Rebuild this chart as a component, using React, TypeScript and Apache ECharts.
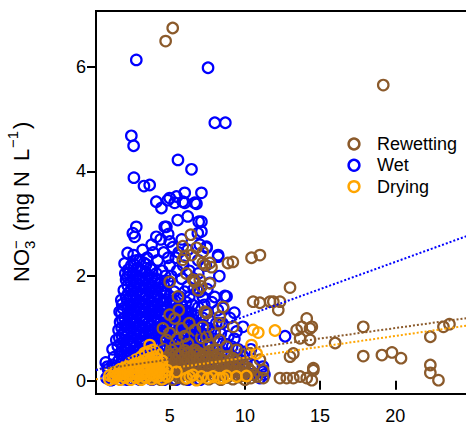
import React, { useEffect, useRef } from "react";
import * as echarts from "echarts";

// Legend order and colours
const seriesNames = ["Rewetting", "Wet", "Drying"];
const seriesColors = ["#8B5A2B", "#0000FF", "#FFA500"];

// Axis ranges and tick positions
const xRange = [0.1, 25];
const yRange = [-0.254, 7.065];
const xTicks = [5, 10, 15, 20];
const yTicks = [0, 2, 4, 6];

// Linear fits (intercept, slope) in legend order
const trendIntercepts = [0.206, 0.19, 0.025];
const trendSlopes = [0.04, 0.104, 0.0415];

// Wet phase: [x, NO3 concentration]
const wet: [number, number][] = [
  [2.78, 6.13], [7.55, 5.98], [8.0, 4.93], [8.7, 4.93], [2.45, 4.68], [2.6, 4.49],
  [5.55, 4.22], [6.45, 4.04], [2.62, 3.88], [3.29, 3.72], [3.67, 3.74],
  [7.11, 3.59], [6.0, 3.59], [5.0, 3.49], [5.45, 3.52], [4.11, 3.42], [4.45, 3.3],
  [4.87, 3.45], [5.33, 3.4], [5.87, 3.42], [6.0, 3.4], [6.67, 3.4], [6.78, 3.38],
  [6.2, 3.14], [5.53, 3.07], [6.93, 3.04], [7.11, 3.04], [4.78, 2.94], [4.67, 2.94],
  [6.87, 2.82], [7.11, 2.85], [4.11, 2.75], [5.0, 2.66], [7.45, 2.54], [7.45, 2.56],
  [8.22, 2.37], [8.22, 2.4], [2.78, 2.94], [2.67, 2.75], [7.67, 1.87], [8.67, 1.62],
  [8.78, 1.61], [8.55, 1.39], [9.44, 0.94], [9.87, 1.03], [9.87, 0.46], [12.67, 0.85],
  [11.2, 0.27], [11.2, 0.17],
  [4.7, 2.0], [4.9, 2.35], [5.2, 2.55], [5.5, 2.1], [5.6, 2.45], [6.0, 1.7],
  [6.3, 1.6], [6.6, 1.95], [6.9, 2.3], [7.2, 1.6], [7.5, 1.75], [7.8, 1.5],
  [8.0, 1.6], [8.3, 2.0], [7.0, 2.6], [5.8, 2.7], [6.2, 2.5], [4.4, 2.7],
  [4.9, 2.8], [3.9, 2.45],
  [0.8, 0.05], [0.9, 0.22], [0.87, 0.27], [0.75, 0.35], [1.1, 0.01],
  [1.15, 0.02], [1.25, 0.15], [1.2, 0.3], [1.3, 0.45], [1.2, 0.6], [1.45, 0.78],
  [1.55, 0.08], [1.65, 0.22], [1.6, 0.38], [1.7, 0.52], [1.55, 0.66], [1.65, 0.82],
  [1.6, 0.97], [1.7, 1.12], [1.67, 1.32],
  [1.82, 0.1], [1.78, 0.26], [1.84, 0.41], [1.8, 0.56], [1.76, 0.71], [1.83, 0.86],
  [1.8, 1.01], [1.85, 1.17], [1.79, 1.3], [1.84, 1.46],
  [2.0, 0.03], [1.95, 0.18], [2.05, 0.33], [1.95, 0.48], [2.05, 0.62], [2.0, 0.77],
  [1.95, 0.92], [2.05, 1.06], [2.0, 1.2], [1.9, 1.38], [1.78, 1.54], [1.95, 1.73],
  [2.1, 1.93], [2.0, 2.24], [2.1, 1.6], [2.05, 2.05],
  [2.22, 0.02], [2.18, 0.17], [2.24, 0.33], [2.2, 0.47], [2.16, 0.62], [2.23, 0.78],
  [2.2, 0.92], [2.17, 1.08], [2.24, 1.22], [2.2, 1.37], [2.18, 1.53], [2.25, 1.67],
  [2.21, 1.82], [2.19, 1.98], [2.24, 2.12],
  [2.4, 0.1], [2.35, 0.25], [2.45, 0.4], [2.4, 0.55], [2.35, 0.7], [2.45, 0.85],
  [2.4, 1.0], [2.35, 1.15], [2.45, 1.3], [2.4, 1.45], [2.35, 1.6], [2.45, 1.75],
  [2.4, 1.9], [2.3, 2.05], [2.2, 2.44], [2.45, 2.2], [2.55, 2.82],
  [2.62, 0.12], [2.58, 0.27], [2.63, 0.43], [2.6, 0.57], [2.57, 0.72], [2.64, 0.88],
  [2.6, 1.02], [2.56, 1.17], [2.63, 1.33], [2.61, 1.47], [2.58, 1.62], [2.64, 1.78],
  [2.6, 1.92], [2.57, 2.07], [2.63, 2.22], [2.6, 2.4],
  [2.8, 0.05], [2.75, 0.2], [2.85, 0.35], [2.8, 0.5], [2.75, 0.65], [2.85, 0.8],
  [2.8, 0.95], [2.75, 1.1], [2.85, 1.25], [2.8, 1.4], [2.75, 1.55], [2.85, 1.7],
  [2.8, 1.85], [2.75, 2.0], [2.85, 2.15], [2.8, 2.3],
  [3.02, 0.02], [2.98, 0.17], [3.03, 0.32], [3.0, 0.48], [2.97, 0.62], [3.04, 0.77],
  [3.0, 0.93], [2.96, 1.07], [3.03, 1.22], [3.01, 1.38], [2.98, 1.52], [3.04, 1.67],
  [3.0, 1.83], [2.97, 1.97], [3.03, 2.12], [3.0, 2.3],
  [3.2, 0.12], [3.15, 0.27], [3.25, 0.42], [3.2, 0.57], [3.15, 0.72], [3.25, 0.87],
  [3.2, 1.02], [3.15, 1.17], [3.25, 1.32], [3.2, 1.47], [3.15, 1.62], [3.25, 1.77],
  [3.2, 1.92], [3.1, 2.1], [3.3, 2.25], [3.2, 2.5],
  [3.42, 0.12], [3.38, 0.28], [3.43, 0.42], [3.4, 0.57], [3.37, 0.73], [3.44, 0.87],
  [3.4, 1.02], [3.36, 1.18], [3.43, 1.32], [3.41, 1.47], [3.38, 1.63], [3.44, 1.77],
  [3.4, 1.92], [3.37, 2.08], [3.43, 2.22],
  [3.6, 0.05], [3.55, 0.2], [3.65, 0.35], [3.6, 0.5], [3.55, 0.65], [3.65, 0.8],
  [3.6, 0.95], [3.55, 1.1], [3.65, 1.25], [3.6, 1.4], [3.55, 1.55], [3.65, 1.7],
  [3.6, 1.85], [3.55, 2.0], [3.7, 2.15], [3.5, 2.35], [3.8, 2.6],
  [3.82, 0.02], [3.78, 0.17], [3.83, 0.33], [3.8, 0.47], [3.77, 0.62], [3.84, 0.78],
  [3.8, 0.92], [3.76, 1.07], [3.83, 1.23], [3.81, 1.37], [3.78, 1.52], [3.84, 1.68],
  [3.8, 1.82], [3.77, 1.97], [3.83, 2.12],
  [4.0, 0.1], [3.95, 0.25], [4.05, 0.4], [4.0, 0.55], [3.95, 0.7], [4.05, 0.85],
  [4.0, 1.0], [3.95, 1.15], [4.05, 1.3], [4.0, 1.45], [3.95, 1.6], [4.05, 1.75],
  [4.0, 1.9], [4.1, 2.05], [4.2, 2.3],
  [4.22, 0.12], [4.18, 0.27], [4.23, 0.43], [4.2, 0.57], [4.17, 0.72], [4.24, 0.88],
  [4.2, 1.02], [4.16, 1.17], [4.23, 1.33], [4.21, 1.47], [4.18, 1.62], [4.24, 1.78],
  [4.2, 1.92],
  [4.4, 0.05], [4.35, 0.2], [4.45, 0.35], [4.4, 0.5], [4.35, 0.65], [4.45, 0.8],
  [4.4, 0.95], [4.35, 1.1], [4.45, 1.25], [4.4, 1.4], [4.35, 1.55], [4.45, 1.7],
  [4.4, 1.85], [4.5, 2.1], [4.6, 2.45],
  [4.62, 0.02], [4.58, 0.18], [4.63, 0.32], [4.6, 0.47], [4.57, 0.63], [4.64, 0.77],
  [4.6, 0.92], [4.56, 1.08], [4.63, 1.22], [4.61, 1.37], [4.58, 1.53], [4.64, 1.67],
  [4.6, 1.82],
  [4.8, 0.1], [4.75, 0.3], [4.85, 0.5], [4.8, 0.65], [4.75, 0.8], [4.85, 0.95],
  [4.8, 1.1], [4.75, 1.25], [4.85, 1.4], [4.8, 1.55], [4.75, 1.7], [4.9, 1.9], [5.0, 2.2],
  [5.02, 0.12], [4.98, 0.27], [5.03, 0.43], [5.0, 0.57], [4.97, 0.72], [5.04, 0.88],
  [5.0, 1.02], [4.96, 1.17], [5.03, 1.33], [5.01, 1.47], [4.98, 1.62],
  [5.2, 0.15], [5.25, 0.4], [5.15, 0.6], [5.2, 0.75], [5.25, 0.9], [5.15, 1.05],
  [5.2, 1.2], [5.25, 1.35], [5.2, 1.5], [5.3, 1.7], [5.1, 2.0], [5.4, 2.35],
  [5.42, 0.02], [5.38, 0.17], [5.43, 0.33], [5.4, 0.47], [5.37, 0.62], [5.44, 0.78],
  [5.4, 0.92], [5.36, 1.07], [5.43, 1.23], [5.41, 1.37], [5.38, 1.52],
  [5.6, 0.2], [5.55, 0.45], [5.65, 0.65], [5.6, 0.8], [5.55, 0.95], [5.65, 1.1],
  [5.6, 1.25], [5.55, 1.4], [5.7, 1.6], [5.8, 1.95], [5.9, 2.2],
  [5.82, 0.12], [5.78, 0.27], [5.83, 0.42], [5.8, 0.58], [5.77, 0.72], [5.84, 0.87],
  [5.8, 1.03], [5.76, 1.17], [5.83, 1.32], [5.81, 1.42],
  [6.0, 0.3], [6.05, 0.55], [5.95, 0.75], [6.0, 0.9], [6.05, 1.05], [5.95, 1.2],
  [6.0, 1.35], [6.1, 1.5], [6.2, 1.8], [6.3, 2.1],
  [6.22, 0.02], [6.18, 0.17], [6.23, 0.33], [6.2, 0.47], [6.17, 0.62], [6.24, 0.78],
  [6.2, 0.92], [6.16, 1.07], [6.23, 1.22], [6.21, 1.32],
  [6.4, 0.25], [6.45, 0.5], [6.35, 0.7], [6.4, 0.85], [6.45, 1.0], [6.35, 1.15],
  [6.4, 1.3], [6.5, 1.45], [6.6, 1.75],
  [6.62, 0.12], [6.58, 0.27], [6.63, 0.42], [6.6, 0.58], [6.57, 0.72], [6.64, 0.87],
  [6.6, 1.03], [6.56, 1.17],
  [6.8, 0.35], [6.85, 0.6], [6.75, 0.8], [6.8, 0.95], [6.85, 1.1], [6.75, 1.25],
  [6.9, 1.4], [7.0, 1.7], [6.9, 2.05],
  [7.02, 0.02], [6.98, 0.17], [7.03, 0.33], [7.0, 0.47], [6.97, 0.62], [7.04, 0.78],
  [7.0, 0.92], [6.96, 1.07],
  [7.2, 0.3], [7.25, 0.55], [7.15, 0.75], [7.2, 0.9], [7.25, 1.05], [7.2, 1.2],
  [7.3, 1.45], [7.4, 2.2],
  [7.6, 0.4], [7.65, 0.65], [7.55, 0.85], [7.6, 1.0], [7.65, 1.15], [7.5, 1.3],
  [8.0, 0.35], [8.05, 0.6], [7.95, 0.8], [8.0, 0.95], [8.1, 1.1], [8.2, 1.35],
  [8.4, 0.3], [8.45, 0.55], [8.35, 0.75], [8.4, 0.9], [8.5, 1.1],
  [8.8, 0.25], [8.85, 0.5], [8.75, 0.7], [8.9, 0.85], [9.0, 1.2],
  [9.2, 0.2], [9.25, 0.45], [9.15, 0.65], [9.3, 0.8], [9.3, 1.3],
  [9.6, 0.15], [9.65, 0.4], [9.55, 0.6],
  [10.0, 0.1], [10.1, 0.35], [10.0, 0.55],
  [10.5, 0.12], [10.6, 0.3], [10.4, 0.6],
  [11.0, 0.05], [11.3, 0.12],
];

// Rewetting phase
const rewetting: [number, number][] = [
  [5.2, 6.74], [4.73, 6.49], [19.2, 5.65],
  [6.4, 2.79], [5.87, 2.57], [6.78, 2.54], [7.2, 2.46], [6.0, 2.37], [6.45, 2.4],
  [5.87, 2.31], [7.2, 2.25], [7.67, 2.25], [8.87, 2.25], [9.2, 2.27], [10.44, 2.35],
  [11.0, 2.4], [7.33, 2.21], [7.78, 2.17], [6.11, 2.05], [6.55, 1.93], [7.0, 1.93],
  [7.67, 1.86], [6.89, 1.73], [5.0, 1.89], [5.55, 1.61], [7.33, 1.32], [8.55, 1.41],
  [7.11, 1.8], [6.67, 1.89],
  [5.0, 1.26], [5.33, 1.19], [4.55, 1.0], [5.0, 0.91], [4.78, 0.78], [5.1, 0.59],
  [6.67, 0.97], [7.2, 1.03], [6.22, 0.71], [6.67, 0.59], [7.11, 0.82],
  [5.5, 0.8], [5.8, 1.0], [6.0, 0.85], [5.4, 0.65], [7.6, 0.7], [8.0, 0.9],
  [8.3, 1.1], [5.6, 1.35], [6.3, 1.1], [4.6, 0.6],
  [7.45, 1.29], [8.33, 1.22], [9.22, 1.03], [7.45, 0.84], [8.33, 0.78], [8.78, 0.65],
  [7.89, 0.59], [9.44, 0.59], [10.33, 0.52], [11.0, 0.4], [9.87, 0.33], [11.22, 0.2],
  [10.55, 1.51], [11.0, 1.49], [11.67, 1.51], [11.89, 1.51], [12.33, 1.51], [12.22, 1.35],
  [13.0, 1.78], [14.11, 1.19], [14.33, 1.0], [13.78, 1.03], [13.44, 0.97], [13.67, 0.81],
  [13.22, 0.52], [13.0, 0.46], [14.55, 0.24], [12.33, 0.05], [12.78, 0.05], [13.22, 0.05],
  [13.67, 0.08], [14.11, 0.05], [11.22, 0.05], [14.45, 1.03], [14.33, 0.78], [16.0, 0.72],
  [17.87, 1.03], [17.87, 0.47], [19.11, 0.49], [19.78, 0.54], [20.38, 0.43], [14.55, 0.2],
  [14.45, 0.01], [22.33, 0.84], [23.2, 1.03], [23.6, 1.08], [22.33, 0.3], [22.33, 0.15],
  [22.87, 0.01],
  [3.2, 0.05], [3.6, 0.1], [4.0, 0.05], [4.0, 0.18],
  [4.4, 0.02], [4.4, 0.15], [4.4, 0.3],
  [4.6, 0.09], [4.62, 0.23], [4.58, 0.37],
  [4.8, 0.05], [4.8, 0.18], [4.8, 0.32], [4.8, 0.45],
  [5.0, 0.1], [5.02, 0.24], [4.98, 0.38], [5.01, 0.5],
  [5.2, 0.02], [5.2, 0.15], [5.2, 0.28], [5.2, 0.42],
  [5.4, 0.12], [5.42, 0.26], [5.38, 0.4], [5.41, 0.52],
  [5.6, 0.06], [5.6, 0.2], [5.6, 0.34], [5.6, 0.48],
  [5.8, 0.1], [5.82, 0.24], [5.78, 0.38], [5.81, 0.52],
  [6.0, 0.03], [6.0, 0.16], [6.0, 0.3], [6.0, 0.44], [6.0, 0.58],
  [6.2, 0.12], [6.22, 0.26], [6.18, 0.4], [6.21, 0.54],
  [6.4, 0.07], [6.4, 0.2], [6.4, 0.34], [6.4, 0.47],
  [6.6, 0.1], [6.62, 0.24], [6.58, 0.38], [6.61, 0.52],
  [6.8, 0.02], [6.8, 0.15], [6.8, 0.29], [6.8, 0.42], [6.8, 0.55],
  [7.0, 0.12], [7.02, 0.26], [6.98, 0.4], [7.01, 0.52],
  [7.2, 0.06], [7.2, 0.2], [7.2, 0.33], [7.2, 0.47],
  [7.4, 0.1], [7.42, 0.24], [7.38, 0.38], [7.41, 0.5],
  [7.6, 0.03], [7.6, 0.16], [7.6, 0.3], [7.6, 0.43], [7.6, 0.56],
  [7.8, 0.11], [7.82, 0.25], [7.78, 0.38], [7.81, 0.5],
  [8.0, 0.07], [8.0, 0.2], [8.0, 0.34], [8.0, 0.47],
  [8.2, 0.1], [8.22, 0.24], [8.18, 0.36], [8.21, 0.5],
  [8.4, 0.02], [8.4, 0.15], [8.4, 0.28], [8.4, 0.42],
  [8.6, 0.12], [8.62, 0.26], [8.58, 0.38],
  [8.8, 0.06], [8.8, 0.2], [8.8, 0.33], [8.8, 0.46],
  [9.0, 0.1], [9.02, 0.24], [8.98, 0.37],
  [9.2, 0.03], [9.2, 0.16], [9.2, 0.3], [9.2, 0.43],
  [9.4, 0.11], [9.42, 0.25], [9.38, 0.38],
  [9.6, 0.07], [9.6, 0.2], [9.6, 0.34],
  [9.8, 0.1], [9.82, 0.24],
  [10.0, 0.02], [10.0, 0.15], [10.0, 0.28],
  [10.2, 0.11], [10.22, 0.24],
  [10.4, 0.05], [10.4, 0.18], [10.6, 0.12], [10.8, 0.08],
];

// Drying phase
const drying: [number, number][] = [
  [1.0, 0.02], [1.0, 0.1], [1.2, 0.08], [1.35, 0.05], [1.35, 0.16], [1.5, 0.1],
  [1.7, 0.02], [1.7, 0.12], [1.7, 0.22], [1.9, 0.08], [1.9, 0.19],
  [2.05, 0.06], [2.05, 0.16], [2.05, 0.27], [2.2, 0.1], [2.2, 0.2],
  [2.4, 0.02], [2.4, 0.12], [2.4, 0.23], [2.4, 0.34],
  [2.6, 0.08], [2.6, 0.18], [2.6, 0.3],
  [2.75, 0.06], [2.75, 0.16], [2.75, 0.27], [2.75, 0.4],
  [2.9, 0.1], [2.9, 0.22], [2.9, 0.33],
  [3.1, 0.02], [3.1, 0.12], [3.1, 0.23], [3.1, 0.34], [3.1, 0.46],
  [3.3, 0.08], [3.3, 0.18], [3.3, 0.3], [3.3, 0.42],
  [3.45, 0.06], [3.45, 0.17], [3.45, 0.28], [3.45, 0.4], [3.45, 0.53],
  [3.6, 0.1], [3.6, 0.22], [3.6, 0.34], [3.6, 0.46], [3.6, 0.56],
  [3.8, 0.03], [3.8, 0.14], [3.8, 0.26], [3.8, 0.38], [3.8, 0.5], [3.89, 0.59], [3.67, 0.68],
  [4.0, 0.1], [4.0, 0.22], [4.0, 0.34], [4.0, 0.46],
  [4.15, 0.07], [4.15, 0.18], [4.15, 0.3], [4.15, 0.42], [4.15, 0.52],
  [4.3, 0.09], [4.3, 0.22], [4.3, 0.35],
  [4.5, 0.03], [4.5, 0.15], [4.5, 0.28], [4.5, 0.38],
  [4.7, 0.1], [4.85, 0.08], [4.85, 0.2],
  [2.89, 0.4], [2.22, 0.27], [1.55, 0.14], [1.33, 0.05], [3.33, 0.53],
  [5.45, 0.17], [6.11, 0.05], [6.33, 0.08], [6.55, 0.11], [6.78, 0.01], [7.11, 0.08],
  [7.55, 0.05], [7.89, 0.08], [8.33, 0.05], [8.55, 0.05], [8.78, 0.09], [9.44, 0.08],
  [10.1, 0.09], [10.55, 0.97], [10.89, 0.92], [12.0, 0.96], [10.44, 0.68], [10.78, 0.52],
];

const FONT = "'Liberation Sans', Arial, Helvetica, sans-serif";

export default function App() {
  const ref = useRef<HTMLDivElement>(null);

  useEffect(() => {
    if (!ref.current) return;
    const chart = echarts.init(ref.current, undefined, { renderer: "svg" });

    const pointSets = [rewetting, wet, drying];

    // Drawing order: Wet underneath, then Rewetting, then Drying
    const drawOrder = [1, 0, 2];
    const scatterSeries = drawOrder.map((i) => ({
      type: "scatter",
      name: seriesNames[i],
      data: pointSets[i],
      symbol: "circle",
      symbolSize: 10.5,
      silent: true,
      itemStyle: {
        color: "rgba(0,0,0,0)",
        borderColor: seriesColors[i],
        borderWidth: 2.2,
        opacity: 1,
      },
    }));

    const trendSeries = seriesNames.map((name, i) => ({
      type: "line",
      name: name + " fit",
      data: xRange.map((x) => [x, trendIntercepts[i] + trendSlopes[i] * x]),
      symbol: "none",
      silent: true,
      clip: true,
      lineStyle: { color: seriesColors[i], width: 2, type: [2, 2] },
      z: 5,
    }));

    const legendTop = 144;
    const legendStep = 21.3;
    const legendGraphics = seriesNames.flatMap((name, i) => [
      {
        type: "circle",
        shape: { cx: 354, cy: legendTop + i * legendStep, r: 5.4 },
        style: { fill: "none", stroke: seriesColors[i], lineWidth: 2.5 },
      },
      {
        type: "text",
        x: 377,
        y: legendTop + i * legendStep,
        style: {
          text: name,
          font: `18px ${FONT}`,
          fill: "#000",
          verticalAlign: "middle",
          align: "left",
        },
      },
    ]);

    // Rotated y-axis title: NO3^- (mg N  L^-1)
    const titlePart = (text: string, x: number, y: number, size: number) => ({
      type: "text",
      x,
      y,
      style: {
        text,
        font: `${size}px ${FONT}`,
        fill: "#000",
        align: "left",
        verticalAlign: "middle",
      },
    });
    const yTitle = {
      type: "group",
      x: 21,
      y: 282,
      rotation: Math.PI / 2,
      children: [
        titlePart("NO", 0, 0, 22),
        titlePart("3", 33, 8, 15),
        titlePart("\u2212", 33, -6, 15),
        titlePart("(mg N", 51, 0, 22),
        titlePart("L", 121, 0, 22),
        titlePart("\u22121", 134, -9, 15),
        titlePart(")", 153, 0, 22),
      ],
    };

    chart.setOption({
      animation: false,
      grid: {
        left: 96,
        top: 11,
        right: 9.5,
        bottom: 33,
        show: true,
        borderColor: "#000",
        borderWidth: 2,
        backgroundColor: "rgba(0,0,0,0)",
      },
      xAxis: {
        type: "value",
        min: xRange[0],
        max: xRange[1],
        axisLine: { show: false },
        splitLine: { show: false },
        axisTick: {
          show: true,
          customValues: xTicks,
          length: 9,
          lineStyle: { color: "#000", width: 2 },
        },
        axisLabel: {
          customValues: xTicks,
          fontSize: 18,
          fontFamily: FONT,
          color: "#000",
          margin: 13,
        },
      },
      yAxis: {
        type: "value",
        min: yRange[0],
        max: yRange[1],
        axisLine: { show: false },
        splitLine: { show: false },
        axisTick: {
          show: true,
          customValues: yTicks,
          length: 9,
          lineStyle: { color: "#000", width: 2 },
        },
        axisLabel: {
          customValues: yTicks,
          fontSize: 18,
          fontFamily: FONT,
          color: "#000",
          margin: 10,
        },
      },
      graphic: [...legendGraphics, yTitle],
      series: [...scatterSeries, ...trendSeries],
    });

    return () => chart.dispose();
  }, []);

  return (
    <div
      ref={ref}
      style={{ position: "fixed", left: 0, top: 0, width: 480, height: 427, background: "#fff" }}
    />
  );
}
